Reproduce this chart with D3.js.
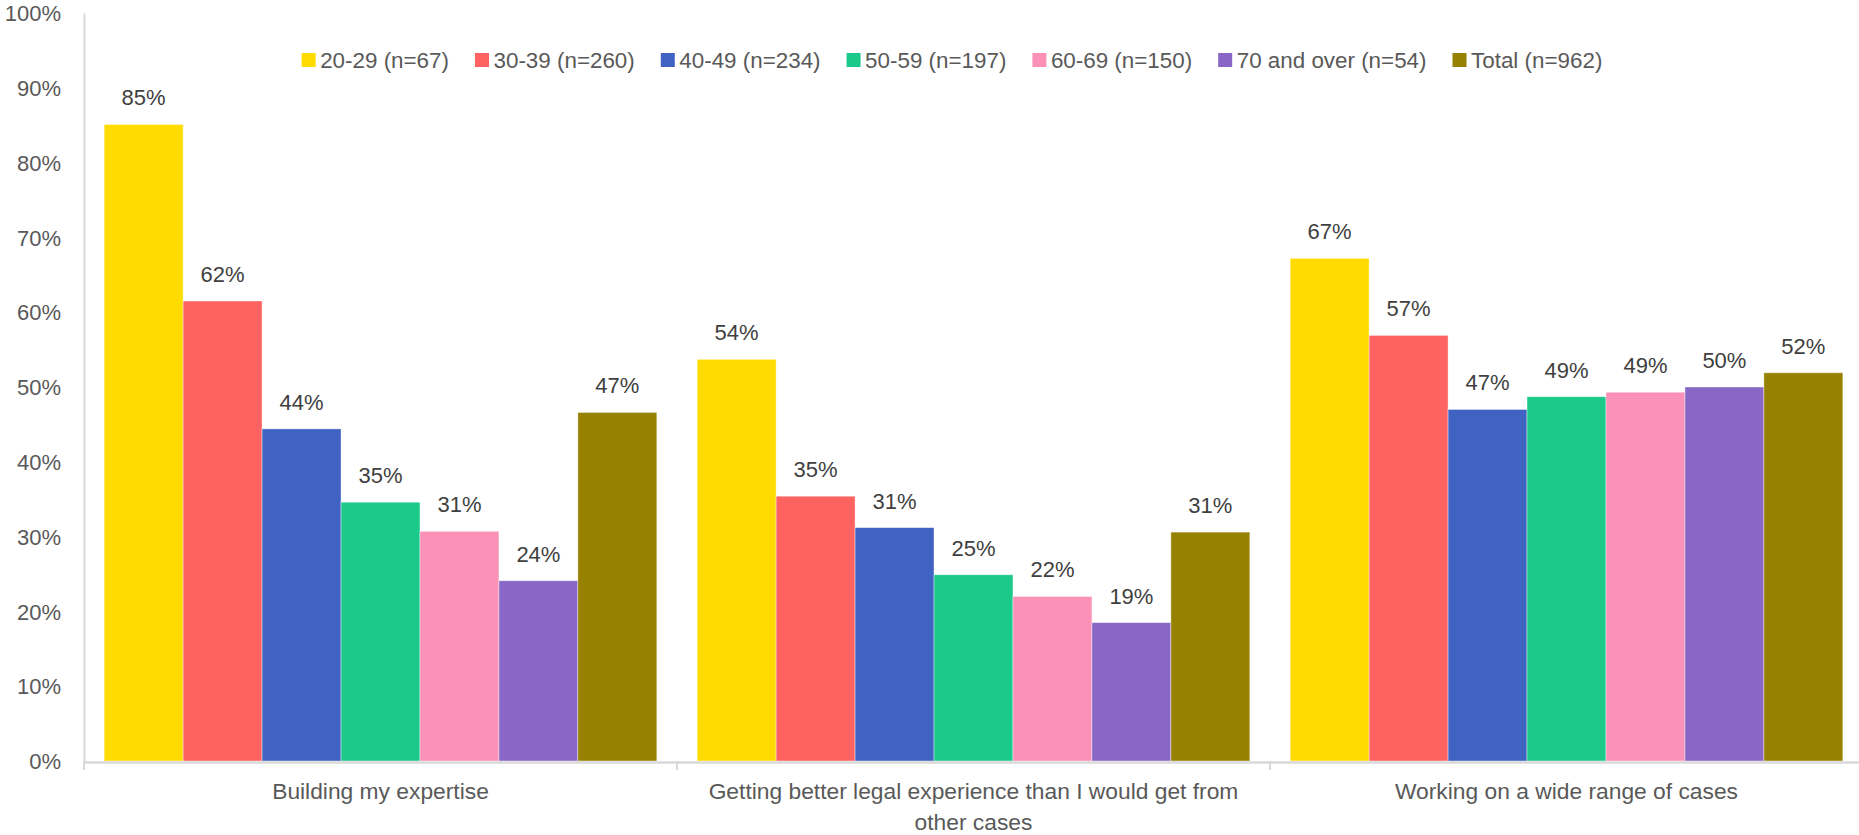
<!DOCTYPE html>
<html><head><meta charset="utf-8">
<script src="https://cdn.jsdelivr.net/npm/d3@7"></script>
<style>
body{margin:0;background:#fff}
svg{display:block}
text{font-family:"Liberation Sans",Arial,sans-serif}
</style>
</head><body><svg id="c" width="1859" height="835"></svg>
<script>
const categories = ["Building my expertise", "Getting better legal experience than I would get from other cases", "Working on a wide range of cases"];
const seriesNames = ["20-29 (n=67)", "30-39 (n=260)", "40-49 (n=234)", "50-59 (n=197)", "60-69 (n=150)", "70 and over (n=54)", "Total (n=962)"];
const seriesColors = ["#FFDB00", "#FF6361", "#4062C2", "#1BC98A", "#FB91B7", "#8967C6", "#978100"];
const age2029 = [85.1, 53.7, 67.2];
const age3039 = [61.5, 35.4, 56.9];
const age4049 = [44.4, 31.2, 47.0];
const age5059 = [34.6, 24.9, 48.7];
const age6069 = [30.7, 22.0, 49.3];
const age70plus = [24.1, 18.5, 50.0];
const total = [46.6, 30.6, 51.9];
const yTickValues = [0, 10, 20, 30, 40, 50, 60, 70, 80, 90, 100];

const seriesValues = [age2029, age3039, age4049, age5059, age6069, age70plus, total];
const svg = d3.select("#c");
const axisColor = "#d9d9d9";

const x0 = d3.scaleBand().domain(categories).range([84, 1863]).paddingInner(0.068).paddingOuter(0.034);
const x1 = d3.scaleBand().domain(seriesNames).range([0, x0.bandwidth()]).padding(0);
const y = d3.scaleLinear().domain([0, 100]).range([761, 13]);

// y axis
const yAxis = svg.append("g").attr("transform", "translate(84,0)")
  .call(d3.axisLeft(y).tickValues(yTickValues).tickSize(0).tickPadding(23).tickFormat(d => d + "%"));
yAxis.select(".domain").attr("stroke", axisColor).attr("stroke-width", 2);
yAxis.selectAll("text").attr("fill", "#595959").style("font-size", "22px")
  .style("font-family", '"Liberation Sans",Arial,sans-serif').attr("dy", "0.35em");

// bars
const groups = svg.append("g").selectAll("g").data(categories).join("g")
  .attr("transform", d => `translate(${x0(d)},0)`);
groups.each(function(cat, ci) {
  const g = d3.select(this);
  const rows = seriesNames.map((s, si) => ({s, si, v: seriesValues[si][ci]}));
  g.selectAll("rect").data(rows).join("rect")
    .attr("x", d => x1(d.s)).attr("width", x1.bandwidth())
    .attr("y", d => y(d.v)).attr("height", d => y(0) - y(d.v))
    .attr("fill", d => seriesColors[d.si])
    .attr("stroke", "#ffffff").attr("stroke-opacity", 0.5).attr("stroke-width", 0.8);
  g.selectAll("text.lbl").data(rows).join("text").attr("class", "lbl")
    .attr("x", d => x1(d.s) + x1.bandwidth() / 2).attr("y", d => y(d.v) - 19)
    .attr("text-anchor", "middle").attr("fill", "#404040").style("font-size", "22px")
    .text(d => Math.round(d.v) + "%");
});

// x axis
const xAxis = svg.append("g").attr("transform", "translate(0,762)")
  .call(d3.axisBottom(x0).tickSize(0).tickPadding(0).tickSizeOuter(0));
xAxis.select(".domain").attr("stroke", axisColor).attr("stroke-width", 2.5);
xAxis.selectAll(".tick text").remove();
xAxis.selectAll(".tick").each(function(d) {
  const t = d3.select(this).append("text").attr("fill", "#595959").attr("text-anchor", "middle")
    .style("font-size", "22.8px").attr("y", 37);
  const words = d.split(" ");
  let line = [];
  let tspan = t.append("tspan").attr("x", 0).attr("dy", 0);
  words.forEach(w => {
    line.push(w);
    tspan.text(line.join(" "));
    if (tspan.node().getComputedTextLength() > x0.bandwidth() - 5 && line.length > 1) {
      line.pop();
      tspan.text(line.join(" "));
      line = [w];
      tspan = t.append("tspan").attr("x", 0).attr("dy", 31).text(w);
    }
  });
});
// category boundary ticks
const bounds = d3.range(categories.length + 1).map(i => x0.range()[0] + i * x0.step());
svg.append("g").selectAll("line").data(bounds).join("line")
  .attr("x1", d => d).attr("x2", d => d).attr("y1", 761).attr("y2", 770)
  .attr("stroke", axisColor).attr("stroke-width", 2);

// legend
const legend = svg.append("g");
const items = legend.selectAll("g").data(seriesNames).join("g");
items.append("rect").attr("width", 14).attr("height", 14).attr("y", 53)
  .attr("fill", (d, i) => seriesColors[i]);
items.append("text").attr("x", 18.5).attr("y", 60).attr("dy", "0.35em")
  .attr("fill", "#595959").style("font-size", "22.4px").text(d => d);
const widths = [];
items.each(function() { widths.push(18.5 + d3.select(this).select("text").node().getComputedTextLength()); });
const gap = 26;
const totalW = d3.sum(widths) + gap * (widths.length - 1);
let cx = 952 - totalW / 2;
items.each(function(d, i) {
  d3.select(this).attr("transform", `translate(${cx},0)`);
  cx += widths[i] + gap;
});
</script>
</body></html>
